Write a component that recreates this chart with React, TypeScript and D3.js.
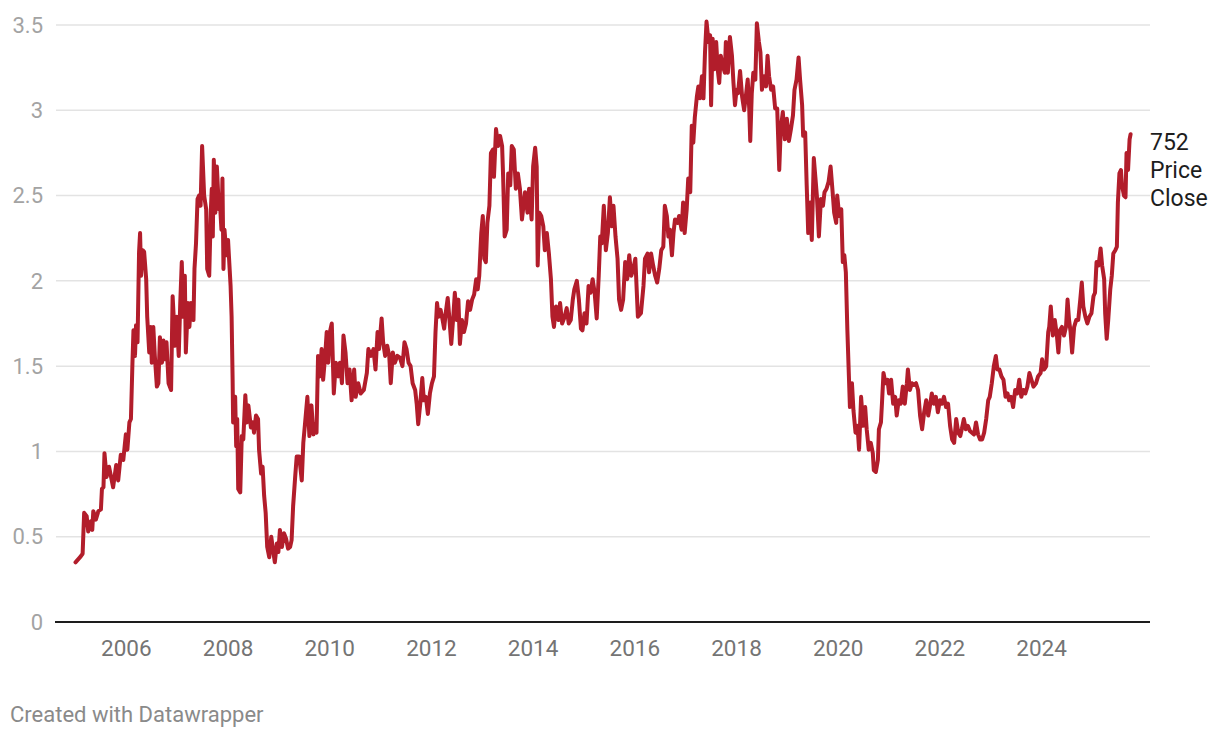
import React from "react";
import * as d3 from "d3";

// [decimal year, close price]
const close2005to2009: [number, number][] = [
  [2005.0, 0.35], [2005.09, 0.38], [2005.14, 0.4], [2005.17, 0.64], [2005.22, 0.62], [2005.25, 0.53],
  [2005.3, 0.59], [2005.33, 0.54], [2005.35, 0.65], [2005.4, 0.6], [2005.45, 0.65], [2005.5, 0.66],
  [2005.52, 0.78], [2005.55, 0.79], [2005.57, 0.99], [2005.61, 0.85], [2005.66, 0.91], [2005.74, 0.79],
  [2005.8, 0.92], [2005.84, 0.83], [2005.89, 0.98], [2005.94, 0.95], [2005.99, 1.1], [2006.02, 1.01],
  [2006.06, 1.17], [2006.09, 1.19], [2006.12, 1.52], [2006.14, 1.71], [2006.17, 1.56], [2006.19, 1.74],
  [2006.22, 1.64], [2006.25, 2.17], [2006.27, 2.28], [2006.29, 2.03], [2006.32, 2.18], [2006.35, 2.17],
  [2006.39, 2.01], [2006.41, 1.79], [2006.45, 1.58], [2006.48, 1.73], [2006.5, 1.52], [2006.53, 1.73],
  [2006.56, 1.56], [2006.6, 1.38], [2006.63, 1.4], [2006.66, 1.67], [2006.7, 1.52], [2006.73, 1.65],
  [2006.76, 1.54], [2006.79, 1.64], [2006.83, 1.4], [2006.88, 1.36], [2006.91, 1.91], [2006.96, 1.62],
  [2006.99, 1.79], [2007.03, 1.56], [2007.06, 1.87], [2007.09, 2.11], [2007.12, 1.79], [2007.15, 2.03],
  [2007.17, 1.58], [2007.21, 1.87], [2007.24, 1.73], [2007.27, 1.87], [2007.32, 1.77], [2007.34, 2.07],
  [2007.37, 2.22], [2007.4, 2.48], [2007.43, 2.5], [2007.46, 2.44], [2007.49, 2.79], [2007.53, 2.5],
  [2007.57, 2.42], [2007.59, 2.07], [2007.63, 2.03], [2007.66, 2.4], [2007.68, 2.54], [2007.7, 2.26],
  [2007.72, 2.71], [2007.75, 2.4], [2007.78, 2.67], [2007.82, 2.42], [2007.84, 2.46], [2007.87, 2.3],
  [2007.89, 2.6], [2007.91, 2.07], [2007.93, 2.3], [2007.97, 2.15], [2008.0, 2.24], [2008.02, 2.13],
  [2008.05, 1.97], [2008.07, 1.79], [2008.09, 1.42], [2008.1, 1.17], [2008.14, 1.32], [2008.16, 1.03],
  [2008.18, 1.19], [2008.2, 0.78], [2008.24, 0.76], [2008.27, 1.09], [2008.3, 1.07], [2008.34, 1.33],
  [2008.37, 1.17], [2008.4, 1.27], [2008.45, 1.14], [2008.49, 1.17], [2008.51, 1.11], [2008.55, 1.21],
  [2008.59, 1.19], [2008.61, 1.01], [2008.65, 0.87], [2008.68, 0.91], [2008.71, 0.74], [2008.74, 0.64],
  [2008.77, 0.44], [2008.81, 0.38], [2008.85, 0.5], [2008.89, 0.41], [2008.92, 0.35], [2008.96, 0.46],
  [2008.99, 0.41], [2009.02, 0.54], [2009.06, 0.44], [2009.1, 0.52], [2009.14, 0.49], [2009.18, 0.43],
  [2009.22, 0.44], [2009.25, 0.48],
];

const close2009to2013: [number, number][] = [
  [2009.28, 0.68], [2009.32, 0.85], [2009.35, 0.97], [2009.4, 0.97], [2009.45, 0.83], [2009.48, 1.05],
  [2009.51, 1.15], [2009.56, 1.32], [2009.6, 1.09], [2009.64, 1.27], [2009.68, 1.1], [2009.71, 1.16],
  [2009.74, 1.11], [2009.77, 1.56], [2009.81, 1.44], [2009.84, 1.6], [2009.87, 1.42], [2009.91, 1.56],
  [2009.94, 1.7], [2009.97, 1.52], [2010.01, 1.71], [2010.04, 1.75], [2010.08, 1.34], [2010.12, 1.52],
  [2010.17, 1.44], [2010.2, 1.52], [2010.24, 1.4], [2010.27, 1.68], [2010.31, 1.58], [2010.35, 1.4],
  [2010.39, 1.48], [2010.43, 1.3], [2010.48, 1.48], [2010.51, 1.32], [2010.56, 1.4], [2010.61, 1.34],
  [2010.67, 1.36], [2010.73, 1.46], [2010.76, 1.6], [2010.81, 1.56], [2010.86, 1.6], [2010.9, 1.48],
  [2010.94, 1.7], [2010.97, 1.6], [2011.02, 1.78], [2011.05, 1.64], [2011.09, 1.56], [2011.13, 1.62],
  [2011.17, 1.56], [2011.2, 1.4], [2011.24, 1.58], [2011.28, 1.52], [2011.33, 1.56], [2011.38, 1.55],
  [2011.43, 1.5], [2011.47, 1.64], [2011.51, 1.6], [2011.55, 1.52], [2011.59, 1.5], [2011.63, 1.4],
  [2011.68, 1.36], [2011.71, 1.28], [2011.74, 1.16], [2011.78, 1.28], [2011.82, 1.43], [2011.85, 1.3],
  [2011.89, 1.32], [2011.93, 1.22], [2011.97, 1.34], [2012.01, 1.4], [2012.05, 1.44], [2012.08, 1.7],
  [2012.11, 1.87], [2012.14, 1.79], [2012.18, 1.83], [2012.22, 1.77], [2012.25, 1.72], [2012.28, 1.81],
  [2012.32, 1.9], [2012.35, 1.79], [2012.39, 1.63], [2012.43, 1.79], [2012.46, 1.93], [2012.5, 1.77],
  [2012.53, 1.89], [2012.56, 1.63], [2012.6, 1.77], [2012.64, 1.7], [2012.68, 1.75], [2012.72, 1.88],
  [2012.76, 1.83], [2012.8, 1.89], [2012.84, 1.92], [2012.88, 2.01], [2012.91, 1.95], [2012.94, 2.03],
  [2012.98, 2.28],
];

const close2013to2017: [number, number][] = [
  [2013.01, 2.38], [2013.04, 2.13], [2013.07, 2.11], [2013.1, 2.34], [2013.14, 2.44], [2013.17, 2.75],
  [2013.21, 2.77], [2013.23, 2.61], [2013.27, 2.89], [2013.31, 2.79], [2013.35, 2.85], [2013.39, 2.79],
  [2013.41, 2.61], [2013.44, 2.26], [2013.48, 2.3], [2013.51, 2.63], [2013.55, 2.56], [2013.58, 2.79],
  [2013.62, 2.77], [2013.66, 2.54], [2013.7, 2.63], [2013.74, 2.54], [2013.78, 2.36], [2013.84, 2.52],
  [2013.89, 2.4], [2013.92, 2.54], [2013.97, 2.36], [2014.0, 2.67], [2014.04, 2.78], [2014.07, 2.67],
  [2014.09, 2.09], [2014.12, 2.4], [2014.16, 2.38], [2014.2, 2.32], [2014.23, 2.18], [2014.27, 2.28],
  [2014.31, 2.16], [2014.35, 2.01], [2014.38, 1.79], [2014.41, 1.73], [2014.45, 1.85], [2014.5, 1.77],
  [2014.53, 1.87], [2014.57, 1.75], [2014.62, 1.79], [2014.66, 1.84], [2014.7, 1.75], [2014.74, 1.77],
  [2014.78, 1.89], [2014.81, 1.95], [2014.86, 2.0], [2014.9, 1.89], [2014.94, 1.72], [2014.97, 1.71],
  [2015.01, 1.81], [2015.05, 1.75], [2015.09, 1.97], [2015.13, 1.93], [2015.17, 2.01], [2015.21, 1.93],
  [2015.25, 1.78], [2015.29, 2.03], [2015.32, 2.26], [2015.35, 2.22], [2015.39, 2.44], [2015.43, 2.18],
  [2015.47, 2.28], [2015.51, 2.49], [2015.55, 2.32], [2015.58, 2.44], [2015.62, 2.26], [2015.66, 2.13],
  [2015.69, 1.89], [2015.73, 1.83], [2015.77, 1.89], [2015.81, 2.11], [2015.85, 2.01], [2015.89, 2.15],
  [2015.93, 2.03], [2015.97, 2.07], [2016.01, 2.13], [2016.06, 1.79], [2016.12, 1.81], [2016.17, 1.97],
  [2016.2, 2.13], [2016.25, 2.16], [2016.28, 2.05], [2016.32, 2.16], [2016.36, 2.09], [2016.4, 2.03],
  [2016.44, 1.99], [2016.48, 2.07], [2016.52, 2.18], [2016.56, 2.2], [2016.59, 2.44], [2016.63, 2.38],
  [2016.66, 2.26], [2016.69, 2.3], [2016.73, 2.15], [2016.76, 2.28], [2016.79, 2.36], [2016.84, 2.34],
  [2016.87, 2.38], [2016.92, 2.3], [2016.95, 2.46], [2016.98, 2.28],
];

const close2017to2021: [number, number][] = [
  [2017.02, 2.42], [2017.05, 2.6], [2017.09, 2.52], [2017.12, 2.91], [2017.15, 2.81], [2017.18, 2.96],
  [2017.22, 3.08], [2017.25, 3.14], [2017.28, 3.07], [2017.32, 3.2], [2017.35, 3.07], [2017.38, 3.34],
  [2017.41, 3.52], [2017.45, 3.4], [2017.48, 3.44], [2017.5, 3.03], [2017.53, 3.42], [2017.56, 3.24],
  [2017.6, 3.4], [2017.63, 3.24], [2017.66, 3.16], [2017.69, 3.32], [2017.73, 3.26], [2017.77, 3.22],
  [2017.79, 3.4], [2017.83, 3.22], [2017.87, 3.43], [2017.91, 3.32], [2017.94, 3.16], [2017.97, 3.03],
  [2018.0, 3.12], [2018.03, 3.1], [2018.07, 3.23], [2018.11, 3.08], [2018.15, 3.0], [2018.19, 3.1],
  [2018.22, 3.18], [2018.25, 3.01], [2018.27, 2.82], [2018.3, 3.1], [2018.33, 3.22], [2018.37, 3.18],
  [2018.4, 3.51], [2018.44, 3.4], [2018.47, 3.34], [2018.5, 3.12], [2018.54, 3.2], [2018.58, 3.14],
  [2018.61, 3.32], [2018.64, 3.2], [2018.68, 3.12], [2018.72, 3.14], [2018.76, 3.01], [2018.8, 3.01],
  [2018.84, 2.65], [2018.87, 2.89], [2018.91, 2.99], [2018.95, 2.83], [2018.99, 2.95], [2019.03, 2.82],
  [2019.07, 2.89], [2019.11, 2.97], [2019.14, 3.12], [2019.18, 3.18], [2019.22, 3.31], [2019.25, 3.18],
  [2019.29, 3.03], [2019.31, 2.85], [2019.35, 2.87], [2019.38, 2.56], [2019.41, 2.28], [2019.45, 2.46],
  [2019.48, 2.24], [2019.52, 2.72], [2019.55, 2.61], [2019.58, 2.5], [2019.62, 2.26], [2019.66, 2.48],
  [2019.7, 2.44], [2019.73, 2.52], [2019.77, 2.54], [2019.81, 2.58], [2019.85, 2.67], [2019.89, 2.52],
  [2019.92, 2.4], [2019.96, 2.34], [2019.98, 2.5], [2020.02, 2.38], [2020.06, 2.42], [2020.09, 2.11],
  [2020.12, 2.15], [2020.15, 2.05], [2020.18, 1.71], [2020.21, 1.44], [2020.23, 1.26], [2020.27, 1.4],
  [2020.3, 1.24], [2020.34, 1.11], [2020.38, 1.15], [2020.41, 1.01], [2020.45, 1.32], [2020.49, 1.15],
  [2020.53, 1.26], [2020.56, 1.13], [2020.6, 1.01], [2020.64, 1.05], [2020.68, 0.99], [2020.7, 0.89],
  [2020.74, 0.88], [2020.78, 0.95], [2020.8, 1.13], [2020.84, 1.17], [2020.86, 1.28], [2020.89, 1.46],
  [2020.93, 1.4], [2020.97, 1.42],
];

const close2021to2025: [number, number][] = [
  [2021.0, 1.34], [2021.04, 1.42], [2021.08, 1.28], [2021.12, 1.32], [2021.15, 1.21], [2021.19, 1.3],
  [2021.23, 1.28], [2021.27, 1.38], [2021.31, 1.28], [2021.35, 1.4], [2021.37, 1.48], [2021.41, 1.36],
  [2021.45, 1.4], [2021.49, 1.39], [2021.53, 1.4], [2021.57, 1.36], [2021.61, 1.21], [2021.65, 1.13],
  [2021.69, 1.23], [2021.73, 1.3], [2021.77, 1.21], [2021.8, 1.26], [2021.84, 1.34], [2021.88, 1.28],
  [2021.92, 1.32], [2021.96, 1.23], [2022.0, 1.3], [2022.04, 1.28], [2022.08, 1.32], [2022.12, 1.26],
  [2022.16, 1.28], [2022.2, 1.15], [2022.24, 1.07], [2022.28, 1.05], [2022.32, 1.19], [2022.36, 1.11],
  [2022.4, 1.09], [2022.43, 1.13], [2022.47, 1.19], [2022.51, 1.13], [2022.55, 1.15], [2022.59, 1.12],
  [2022.63, 1.11], [2022.67, 1.1], [2022.71, 1.17], [2022.75, 1.1], [2022.79, 1.07], [2022.83, 1.07],
  [2022.87, 1.11], [2022.91, 1.19], [2022.95, 1.3], [2022.98, 1.32], [2023.02, 1.4], [2023.06, 1.5],
  [2023.1, 1.56], [2023.13, 1.48], [2023.17, 1.48], [2023.21, 1.44], [2023.25, 1.42], [2023.29, 1.32],
  [2023.33, 1.34], [2023.36, 1.3], [2023.4, 1.32], [2023.44, 1.26], [2023.48, 1.36], [2023.52, 1.34],
  [2023.56, 1.42], [2023.6, 1.32], [2023.64, 1.36], [2023.68, 1.34], [2023.72, 1.38], [2023.76, 1.46],
  [2023.84, 1.38], [2023.89, 1.4], [2023.93, 1.44], [2023.98, 1.46], [2024.01, 1.54], [2024.05, 1.48],
  [2024.09, 1.5], [2024.13, 1.7], [2024.15, 1.73], [2024.18, 1.85], [2024.22, 1.68], [2024.26, 1.77],
  [2024.3, 1.68], [2024.33, 1.58], [2024.36, 1.71], [2024.4, 1.73], [2024.44, 1.68], [2024.48, 1.73],
  [2024.51, 1.89], [2024.54, 1.77], [2024.57, 1.7], [2024.6, 1.58], [2024.64, 1.73], [2024.68, 1.77],
  [2024.72, 1.77], [2024.76, 1.89], [2024.79, 1.99], [2024.82, 1.85], [2024.86, 1.79], [2024.9, 1.75],
  [2024.94, 1.79], [2024.98, 1.81], [2025.02, 1.91], [2025.05, 1.93], [2025.08, 2.11], [2025.12, 2.09],
  [2025.16, 2.19], [2025.19, 2.09], [2025.23, 2.01], [2025.25, 1.81], [2025.28, 1.66], [2025.31, 1.77],
  [2025.35, 1.95], [2025.38, 2.03], [2025.41, 2.16], [2025.45, 2.18], [2025.48, 2.2], [2025.5, 2.46],
  [2025.53, 2.63], [2025.56, 2.65], [2025.58, 2.56], [2025.62, 2.5], [2025.65, 2.49], [2025.67, 2.75],
  [2025.7, 2.65], [2025.73, 2.83], [2025.75, 2.86],
];

const series = [
  ...close2005to2009,
  ...close2009to2013,
  ...close2013to2017,
  ...close2017to2021,
  ...close2021to2025,
];

const yTicks = [0, 0.5, 1, 1.5, 2, 2.5, 3, 3.5];
const xTicks = [2006, 2008, 2010, 2012, 2014, 2016, 2018, 2020, 2022, 2024];
const seriesLabel = ["752", "Price", "Close"];
const credit = "Created with Datawrapper";

const W = 1220;
const H = 738;
const FONT = "Roboto, 'Noto Sans', sans-serif";

export default function App() {
  const x = d3
    .scaleLinear()
    .domain(d3.extent(series, (d) => d[0]) as [number, number])
    .range([75.5, 1130.6]);
  const y = d3.scaleLinear().domain([0, 3.5]).range([622, 25]);
  const line = d3
    .line<[number, number]>()
    .x((d) => x(d[0]))
    .y((d) => y(d[1]))
    .curve(d3.curveLinear);

  const plotLeft = 56;
  const plotRight = 1150;

  return (
    <div style={{ position: "fixed", left: 0, top: 0, width: W, height: H, background: "#fff" }}>
      <svg width={W} height={H} style={{ display: "block", fontFamily: FONT }}>
        {yTicks.map((t) => (
          <g key={t}>
            {t !== 0 && (
              <line x1={plotLeft} x2={plotRight} y1={y(t)} y2={y(t)} stroke="#e3e3e3" strokeWidth={1.5} />
            )}
            <text
              x={43}
              y={y(t)}
              dy="0.35em"
              textAnchor="end"
              fontSize={22}
              fill="#a3a3a3"
            >
              {String(t)}
            </text>
          </g>
        ))}
        {xTicks.map((t) => (
          <text key={t} x={x(t)} y={656} textAnchor="middle" fontSize={22.5} fill="#747474">
            {String(t)}
          </text>
        ))}
        <path
          d={line(series) || ""}
          fill="none"
          stroke="#b21d2b"
          strokeWidth={4}
          strokeLinejoin="round"
          strokeLinecap="round"
        />
        <line x1={plotLeft - 1} x2={plotRight} y1={y(0)} y2={y(0)} stroke="#1d1d1d" strokeWidth={2} />
        {seriesLabel.map((s, i) => (
          <text key={s} x={1150} y={142 + i * 28} dy="0.35em" fontSize={23} fill="#1d1d1d">
            {s}
          </text>
        ))}
        <text x={10} y={722} fontSize={22} fill="#8a8a8a">
          {credit}
        </text>
      </svg>
    </div>
  );
}
